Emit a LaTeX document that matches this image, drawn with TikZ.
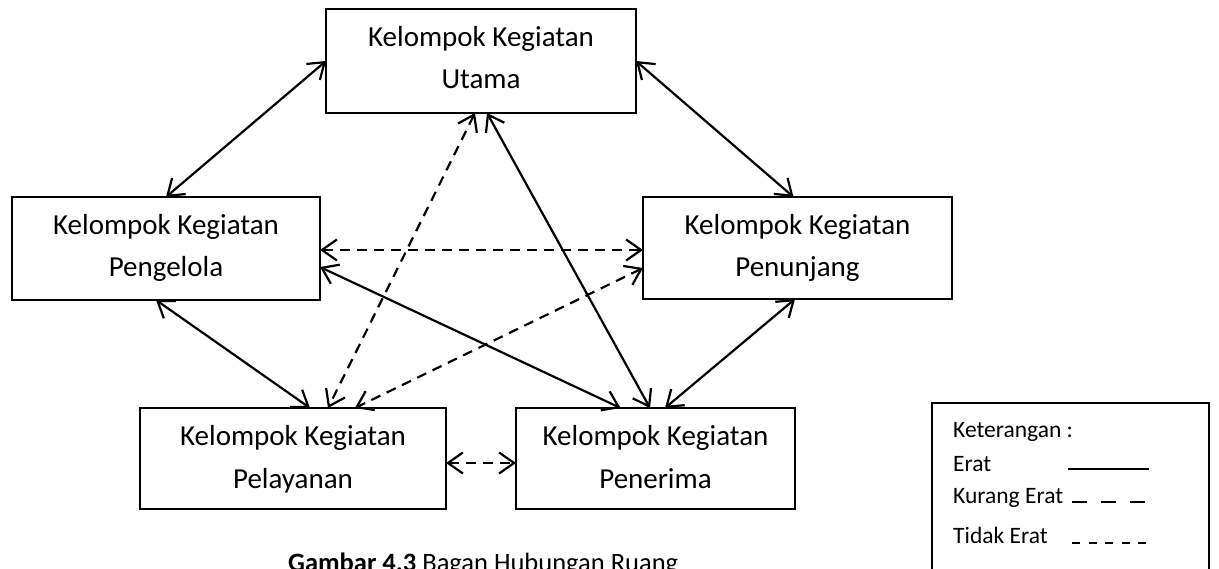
\documentclass[tikz,border=0pt]{standalone}
\usepackage{fontspec}
\setmainfont{Carlito}
\usetikzlibrary{arrows.meta}

\tikzset{
  box/.style={draw, line width=2pt, minimum height=#1, inner sep=0pt, outer sep=0pt},
  boxtext/.style={anchor=base, inner sep=0pt, font=\fontsize{29}{35}\selectfont},
  legtext/.style={anchor=base west, inner sep=0pt, font=\fontsize{23.5}{28}\selectfont},
  link/.style={line width=2.2pt, {Straight Barb[length=15pt,width=21pt]}-{Straight Barb[length=15pt,width=21pt]}},
  solidlink/.style={link},
  dashlink/.style={link, dash pattern=on 10pt off 7pt},
}

\begin{document}
\begin{tikzpicture}[x=1pt, y=-1pt]
\useasboundingbox (0,0) rectangle (1219,569);

% activity groups
\node[box=104pt, minimum width=310pt] (utama)     at (481,61)    {};
\node[box=103pt, minimum width=308pt] (pengelola) at (166,248.5) {};
\node[box=102pt, minimum width=309pt] (penunjang) at (797.5,248) {};
\node[box=101pt, minimum width=306pt] (pelayanan) at (293,458.5) {};
\node[box=101pt, minimum width=279pt] (penerima)  at (655.5,458.5) {};

% two-line labels, placed by baseline
\node[boxtext] (utamaA)     at (481,47)    {Kelompok Kegiatan};
\node[boxtext] (utamaB)     at (481,89)    {Utama};
\node[boxtext] (pengelolaA) at (166,235)   {Kelompok Kegiatan};
\node[boxtext] (pengelolaB) at (166,277)   {Pengelola};
\node[boxtext] (penunjangA) at (797.5,235) {Kelompok Kegiatan};
\node[boxtext] (penunjangB) at (797.5,277) {Penunjang};
\node[boxtext] (pelayananA) at (293,446)   {Kelompok Kegiatan};
\node[boxtext] (pelayananB) at (293,488)   {Pelayanan};
\node[boxtext] (penerimaA)  at (655.5,446) {Kelompok Kegiatan};
\node[boxtext] (penerimaB)  at (655.5,488) {Penerima};

% relations
\draw[solidlink] (utama.west) -- (pengelola.north);
\draw[solidlink] (utama.east) -- ([xshift=-4pt]penunjang.north);
\draw[dashlink]  ([yshift=-1.5pt]pengelola.east) -- ([yshift=-2pt]penunjang.west);
\draw[solidlink] ([yshift=-18.5pt]pengelola.east) -- ([xshift=-35pt]penerima.north);
\draw[solidlink] ([xshift=6pt]utama.south) -- ([xshift=-5.5pt]penerima.north);
\draw[dashlink]  ([xshift=-6pt]utama.south) -- ([xshift=35pt]pelayanan.north);
\draw[dashlink]  ([yshift=-20pt]penunjang.west) -- ([xshift=62pt]pelayanan.north);
\draw[solidlink] ([xshift=-10pt]pengelola.south) -- ([xshift=17pt]pelayanan.north);
\draw[solidlink] ([xshift=-2.5pt]penunjang.south) -- ([xshift=9.5pt]penerima.north);
\draw[dashlink]  ([yshift=-4.5pt]pelayanan.east) -- ([yshift=-4.5pt]penerima.west);

% caption
\node[anchor=base west, inner sep=0pt, font=\fontsize{26.5}{30}\selectfont] (caption) at (288,571)
  {\textbf{Gambar 4.3} Bagan Hubungan Ruang};

% legend
\draw[line width=2pt] (932,580) -- (932,403) -- (1209,403) -- (1209,580);
\node[legtext] (ket)    at (953,437) {Keterangan :};
\node[legtext] (erat)   at (953,471) {Erat};
\node[legtext] (kurang) at (953,503) {Kurang Erat};
\node[legtext] (tidak)  at (953,543) {Tidak Erat};
\draw[line width=2pt] (1068,469) -- (1149,469);
\draw[line width=2pt, dash pattern=on 15pt off 14pt] (1072,502) -- (1150,502);
\draw[line width=2pt, dash pattern=on 8pt off 8.5pt] (1072,543) -- (1152,543);
\end{tikzpicture}
\end{document}
